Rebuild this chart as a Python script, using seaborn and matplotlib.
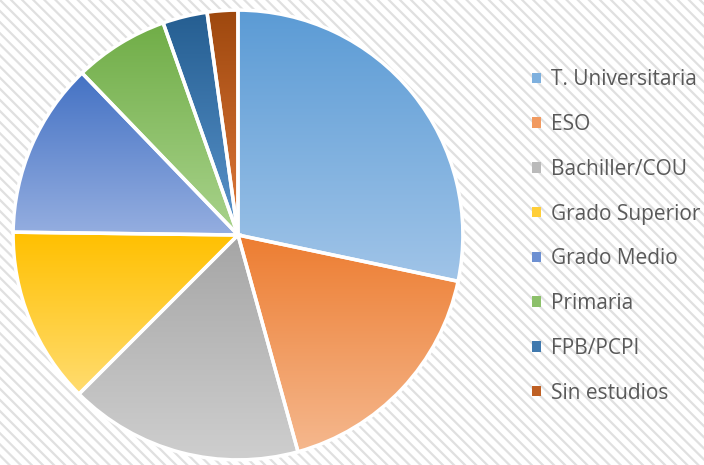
import numpy as np
import matplotlib
matplotlib.use("Agg")
import matplotlib.pyplot as plt
import matplotlib.colors as mcolors
from matplotlib.patches import Patch, Rectangle
import seaborn as sns

# Data (% of respondents)
labels = ["T. Universitaria", "ESO", "Bachiller/COU", "Grado Superior",
          "Grado Medio", "Primaria", "FPB/PCPI", "Sin estudios"]
values = [28.3, 17.4, 16.8, 12.7, 12.6, 6.8, 3.2, 2.2]

# Excel-like gradient: darker at top, lighter at bottom
top_colors = ["#5B9BD5", "#ED7D31", "#A5A5A5", "#FFC000",
              "#4472C4", "#70AD47", "#255E91", "#9E480E"]
bottom_colors = ["#A0C4E8", "#F5B88E", "#CFCFCF", "#FFDC70",
                 "#95AEE0", "#A9D38C", "#5A94CC", "#E0793A"]

sns.set_theme(style="white")
plt.rcParams["font.family"] = ["Open Sans", "DejaVu Sans"]
plt.rcParams["hatch.color"] = "#e0e0e0"
plt.rcParams["hatch.linewidth"] = 1.6

fig = plt.figure(figsize=(7.04, 4.65), dpi=100)

# Hatched light background
bg = fig.add_axes([0, 0, 1, 1], zorder=-10)
bg.set_axis_off()
bg.add_patch(Rectangle((0, 0), 1, 1, transform=bg.transAxes,
                       facecolor="white", edgecolor="#e0e0e0",
                       hatch="\\\\\\", linewidth=0))

# Pie axes: centre (238, 235) px, radius ~226 px
cx, cy, r = 238, 235, 226
W, H = 704, 465
ax = fig.add_axes([(cx - r) / W, (H - cy - r) / H, 2 * r / W, 2 * r / H])
ax.set_facecolor("none")

wedges, _ = ax.pie(values, startangle=90, counterclock=False, radius=1,
                   colors=top_colors,
                   wedgeprops={"edgecolor": "white", "linewidth": 2.5})
ax.set_aspect("equal")
ax.set_axis_off()

for w, c0, c1 in zip(wedges, top_colors, bottom_colors):
    verts = w.get_path().vertices
    x0, x1 = verts[:, 0].min(), verts[:, 0].max()
    y0, y1 = verts[:, 1].min(), verts[:, 1].max()
    cmap = mcolors.LinearSegmentedColormap.from_list("g", [c1, c0])
    grad = np.linspace(0, 1, 256).reshape(-1, 1)
    im = ax.imshow(grad, cmap=cmap, origin="lower", aspect="auto",
                   extent=[x0, x1, y0, y1], zorder=w.get_zorder() - 0.1)
    im.set_clip_path(w)
    w.set_facecolor("none")
    w.set_zorder(w.get_zorder() + 1)

ax.set_xlim(-1.005, 1.005)
ax.set_ylim(-1.005, 1.005)

handles = [Patch(facecolor=mcolors.to_hex(
    np.mean([mcolors.to_rgb(a), mcolors.to_rgb(b)], axis=0)), edgecolor="none")
    for a, b in zip(top_colors, bottom_colors)]
leg = fig.legend(handles, labels, loc="upper left",
                 bbox_to_anchor=(524 / W, 1 - 61 / H),
                 frameon=False, fontsize=15, labelcolor="#595959",
                 handlelength=0.4, handleheight=0.4, handletextpad=0.5,
                 labelspacing=1.14, borderaxespad=0)

fig.savefig("out.png", dpi=100, facecolor="white")
